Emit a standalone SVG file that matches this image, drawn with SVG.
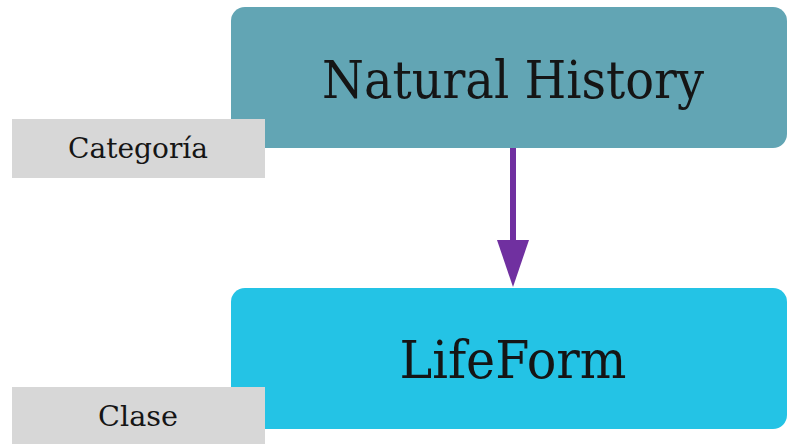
<svg xmlns="http://www.w3.org/2000/svg" width="787" height="444" viewBox="0 0 787 444">
<defs>
<style>
.t{font-family:"Roboto Slab","DejaVu Serif","Liberation Serif",serif;fill:#151515;text-anchor:middle}
.big{font-size:52px}
.small{font-size:27px}
.lab{fill:#D7D7D7}
.conn{stroke:#7030A0;stroke-width:6}
.head{fill:#7030A0}
</style>
</defs>
<rect width="787" height="444" fill="#fff"/>
<g id="connectors">
<line class="conn" x1="513" y1="148" x2="513" y2="245"/>
<path class="head" d="M497,240 L529,240 L513,287 Z"/>
</g>
<g id="node-natural-history">
<rect x="231" y="7" width="556" height="141" rx="14" fill="#62A5B4"/>
<text class="t big" x="513" y="98" textLength="382" lengthAdjust="spacingAndGlyphs">Natural History</text>
</g>
<g id="label-categoria">
<rect class="lab" x="12" y="119" width="253" height="59"/>
<text class="t small" x="138" y="158" textLength="140" lengthAdjust="spacingAndGlyphs">Categoría</text>
</g>
<g id="node-lifeform">
<rect x="231" y="288" width="556" height="141" rx="14" fill="#24C3E5"/>
<text class="t big" x="513" y="378" textLength="227" lengthAdjust="spacingAndGlyphs">LifeForm</text>
</g>
<g id="label-clase">
<rect class="lab" x="12" y="387" width="253" height="57"/>
<text class="t small" x="138" y="426" textLength="80" lengthAdjust="spacingAndGlyphs">Clase</text>
</g>
</svg>
